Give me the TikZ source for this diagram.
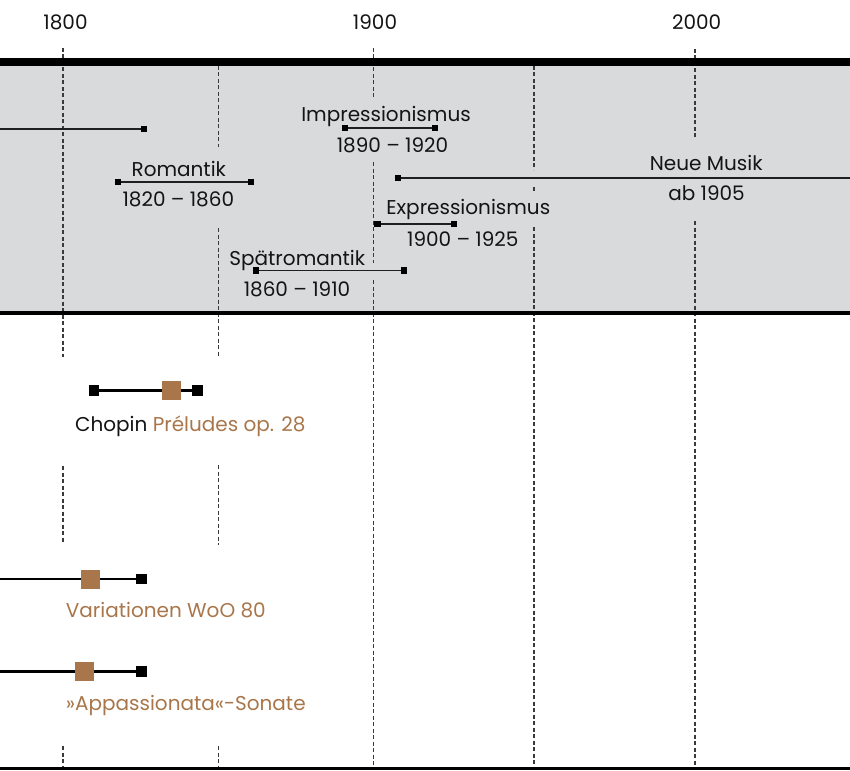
\documentclass[tikz,border=0pt]{standalone}
\usepackage{fontspec}
\setmainfont{Poppins}
\usepackage{xcolor}
\usetikzlibrary{positioning}
\definecolor{bandgray}{HTML}{D9DADC}
\definecolor{opusbrown}{HTML}{A8764A}
\definecolor{gridgray}{HTML}{3A3A3A}

\begin{document}
\begin{tikzpicture}[x=1pt, y=-1pt,
  font=\fontsize{20}{24}\selectfont,
  grid/.style={draw=gridgray, line width=1.3pt, dash pattern=on 4pt off 2.5pt},
  epoch/.style={draw=black!88, line width=1.3pt},
  tip/.style={fill=black, inner sep=0pt, minimum size=6.5pt},
  work/.style={draw=black, line width=2.8pt},
  wtip/.style={fill=black, inner sep=0pt, minimum size=10.5pt},
  opus/.style={fill=opusbrown, inner sep=0pt, minimum size=19pt},
  lbl/.style={inner sep=0pt, anchor=base, text=black!92},
  wlbl/.style={lbl, text=opusbrown}]

\useasboundingbox (0,0) rectangle (850,770);
\fill[bandgray] (0,62) rectangle (850,313);

\foreach \x/\segs in {63/{48/357,466/543,746/770},
                      218.5/{66/147,228/357,465/545,746/770},
                      373.5/{48/97,162/263,280/770},
                      534/{66/170,187/193,227/770},
                      695/{49/138,221/770}}
  \foreach \a/\b in \segs
    \draw[grid] (\x,\a) -- (\x,\b);

\draw[line width=7.3pt] (0,62) -- (850,62);
\draw[line width=4pt] (0,313) -- (850,313);
\draw[line width=2.6pt] (0,768.7) -- (850,768.7);

\foreach \yr/\x in {1800/65.5,1900/375,2000/696.7}
  \node[lbl] (y\yr) at (\x,29.3) {\yr};

\coordinate (klass-a) at (0,129);
\node[tip] (klass-b) at (144,129) {};
\draw[epoch] (klass-a) -- (klass-b);

\node[tip] (impr-a) at (345,128) {};
\node[tip] (impr-b) at (435,128) {};
\draw[epoch] (impr-a) -- (impr-b);
\node[lbl] (impr) at (386,121.7) {Impressionismus};
\node[lbl] (impr-d) at (392.5,152.7) {1890 -- 1920};

\node[tip] (rom-a) at (118,182) {};
\node[tip] (rom-b) at (251,182) {};
\draw[epoch] (rom-a) -- (rom-b);
\node[lbl] (rom) at (178.8,176) {Romantik};
\node[lbl] (rom-d) at (178.3,206.7) {1820 -- 1860};

\node[tip] (neu-a) at (398,178) {};
\coordinate (neu-b) at (850,178);
\draw[epoch] (neu-a) -- (neu-b);
\node[lbl] (neu) at (706.2,170) {Neue Musik};
\node[lbl] (neu-d) at (706.5,200) {ab 1905};

\node[tip] (expr-a) at (377.7,224) {};
\node[tip] (expr-b) at (454,224) {};
\draw[epoch] (expr-a) -- (expr-b);
\node[lbl] (expr) at (468.3,214.3) {Expressionismus};
\node[lbl] (expr-d) at (462.8,246) {1900 -- 1925};

\node[tip] (spaet-a) at (256,270.7) {};
\node[tip] (spaet-b) at (404,270.7) {};
\draw[epoch] (spaet-a) -- (spaet-b);
\node[lbl] (spaet) at (297.3,265) {Spätromantik};
\node[lbl] (spaet-d) at (297,296) {1860 -- 1910};

\node[wtip] (chop-a) at (94,390.5) {};
\node[wtip] (chop-b) at (197.7,390.5) {};
\draw[work] (chop-a) -- (chop-b);
\node[opus] (chop-op) at (171.5,390.5) {};
\node[lbl] (chop) at (190.3,431.7) {Chopin \textcolor{opusbrown}{Préludes op. 28}};

\coordinate (var-a) at (0,579);
\node[wtip] (var-b) at (141.3,579) {};
\draw[work] (var-a) -- (var-b);
\node[opus] (var-op) at (90.5,579) {};
\node[wlbl, anchor=base west] (var) at (65.7,617.3) {Variationen WoO 80};

\coordinate (app-a) at (0,671.7);
\node[wtip] (app-b) at (141.3,671.7) {};
\draw[work] (app-a) -- (app-b);
\node[opus] (app-op) at (84.5,671.7) {};
\node[wlbl, anchor=base west] (app) at (65.7,710) {»Appassionata«-Sonate};

\end{tikzpicture}
\end{document}
